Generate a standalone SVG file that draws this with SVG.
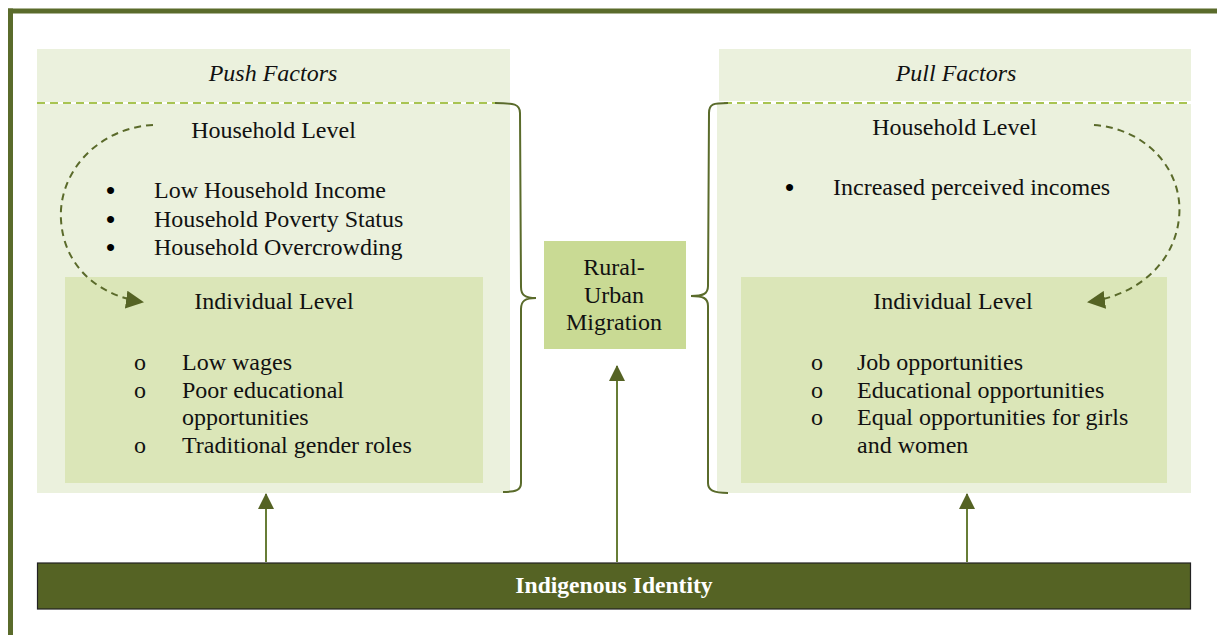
<svg xmlns="http://www.w3.org/2000/svg" width="1217" height="635" viewBox="0 0 1217 635" font-family="Liberation Serif, Times New Roman, serif">
  <defs>
    <style>
      .txt { font-size: 24px; fill: #111; }
      .dot { font-size: 26px; font-weight: bold; fill: #000; }
      .head { font-style: italic; }
      .mid { text-anchor: middle; }
      .panel { fill: #ebf1dd; }
      .inner { fill: #dbe6b8; }
      .divider { stroke: #a8c452; stroke-width: 2; stroke-dasharray: 8 5; fill: none; }
      .brace { stroke: #5a6b2b; stroke-width: 2; fill: none; }
      .loop { stroke: #5a6a2a; stroke-width: 2; stroke-dasharray: 7 5; fill: none; }
      .shaft { stroke: #677d36; stroke-width: 2; fill: none; }
    </style>
    <marker id="head" viewBox="0 0 16 16" refX="15" refY="8" markerWidth="16" markerHeight="16" markerUnits="userSpaceOnUse" orient="auto">
      <path d="M0,0 L16,8 L0,16 Z" fill="#556324"/>
    </marker>
    <marker id="headLoop" viewBox="0 0 18 18" refX="17" refY="9" markerWidth="18" markerHeight="18" markerUnits="userSpaceOnUse" orient="auto">
      <path d="M0,0 L18,9 L0,18 Z" fill="#556324"/>
    </marker>
  </defs>

  <rect width="1217" height="635" fill="#ffffff"/>

  <!-- outer frame: top and left rules -->
  <g id="frame">
    <line x1="8" y1="11" x2="1217" y2="11" stroke="#5a6b2b" stroke-width="5"/>
    <line x1="10.5" y1="8.5" x2="10.5" y2="635" stroke="#5a6b2b" stroke-width="5"/>
  </g>

  <!-- push factors panel -->
  <g id="push">
    <rect class="panel" x="37" y="49" width="473" height="53"/>
    <rect class="panel" x="37" y="104" width="473" height="389"/>
    <line class="divider" x1="37" y1="103" x2="497" y2="103"/>
    <text class="txt head mid" x="273" y="81">Push Factors</text>
    <text class="txt mid" x="273.5" y="137.5">Household Level</text>
    <text class="dot" x="106" y="199">•</text>
    <text class="txt" x="154" y="198">Low Household Income</text>
    <text class="dot" x="106" y="227.5">•</text>
    <text class="txt" x="154" y="226.5">Household Poverty Status</text>
    <text class="dot" x="106" y="256">•</text>
    <text class="txt" x="154" y="255">Household Overcrowding</text>
    <g id="push-individual">
      <rect class="inner" x="65" y="277" width="418" height="206"/>
      <text class="txt mid" x="274" y="309">Individual Level</text>
      <text class="txt" x="134" y="370">o</text>
      <text class="txt" x="182" y="370">Low wages</text>
      <text class="txt" x="134" y="398">o</text>
      <text class="txt" x="182" y="398">Poor educational</text>
      <text class="txt" x="182" y="425">opportunities</text>
      <text class="txt" x="134" y="453">o</text>
      <text class="txt" x="182" y="453">Traditional gender roles</text>
    </g>
  </g>

  <!-- pull factors panel -->
  <g id="pull">
    <rect class="panel" x="719" y="49" width="472" height="52"/>
    <rect class="panel" x="717" y="104" width="474" height="389"/>
    <line class="divider" x1="724" y1="103" x2="1191" y2="103"/>
    <text class="txt head mid" x="956" y="81">Pull Factors</text>
    <text class="txt mid" x="954.5" y="135">Household Level</text>
    <text class="dot" x="785" y="196">•</text>
    <text class="txt" x="833" y="195">Increased perceived incomes</text>
    <g id="pull-individual">
      <rect class="inner" x="741" y="277" width="426" height="206"/>
      <text class="txt mid" x="953" y="309">Individual Level</text>
      <text class="txt" x="811" y="370">o</text>
      <text class="txt" x="857" y="370">Job opportunities</text>
      <text class="txt" x="811" y="398">o</text>
      <text class="txt" x="857" y="398">Educational opportunities</text>
      <text class="txt" x="811" y="425">o</text>
      <text class="txt" x="857" y="425">Equal opportunities for girls</text>
      <text class="txt" x="857" y="453">and women</text>
    </g>
  </g>

  <!-- central outcome -->
  <g id="migration">
    <rect x="544" y="241" width="142" height="108" fill="#c9da94"/>
    <text class="txt mid" x="614" y="275">Rural-</text>
    <text class="txt mid" x="614" y="302.5">Urban</text>
    <text class="txt mid" x="614" y="330">Migration</text>
  </g>

  <!-- base bar -->
  <g id="identity">
    <rect x="37.5" y="563" width="1153" height="46" fill="#556324" stroke="#222" stroke-width="1.2"/>
    <text x="614" y="593" text-anchor="middle" font-size="23.6" font-weight="bold" fill="#ffffff">Indigenous Identity</text>
  </g>

  <!-- connectors -->
  <g id="connectors">
    <path class="brace" d="M495,103 C514,103 520,104 520,113 L521,287 C521,295 525,298 536,298 C525,298 521,301 521,309 L521,483 C521,490 516,492 503,492"/>
    <path class="brace" d="M728,103 C713,103 709,104 709,113 L708,286 C708,294 703,296 691,296 C703,296 708,298 708,306 L708,483 C708,490 713,493 728,493"/>
    <path class="loop" d="M153,125 C98,128 58,172 61,220 C64,268 100,296 143,302" marker-end="url(#headLoop)"/>
    <path class="loop" d="M1094,125 C1148,129 1184,172 1179,218 C1174,266 1134,296 1088,302" marker-end="url(#headLoop)"/>
    <line class="shaft" x1="266" y1="562" x2="266" y2="494" marker-end="url(#head)"/>
    <line class="shaft" x1="617" y1="562" x2="617" y2="366" marker-end="url(#head)"/>
    <line class="shaft" x1="967" y1="562" x2="967" y2="494" marker-end="url(#head)"/>
  </g>
</svg>
